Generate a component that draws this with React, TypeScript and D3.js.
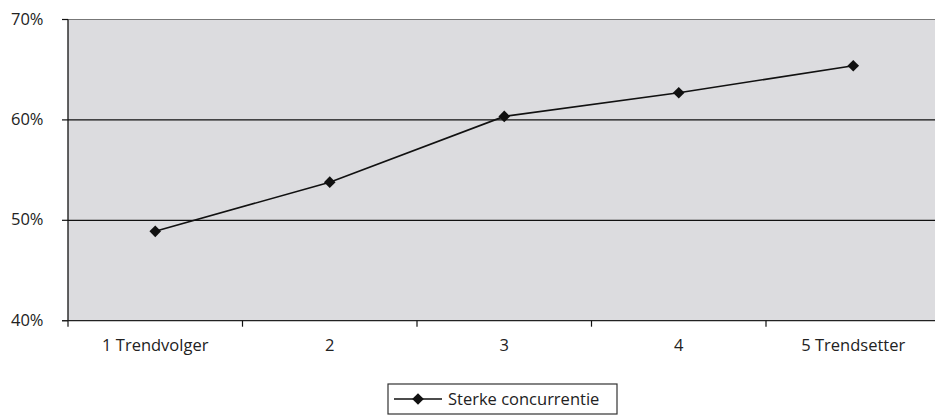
import React from "react";
import * as d3 from "d3";

const categories = ["1 Trendvolger", "2", "3", "4", "5 Trendsetter"];
const values = [48.9, 53.8, 60.35, 62.7, 65.4];
const yTicks = [40, 50, 60, 70];
const seriesName = "Sterke concurrentie";

export default function App() {
  const W = 935, H = 418;
  const left = 68, top = 19.5, bottom = 320.7;
  const band = 174.5;
  const right = left + band * categories.length;
  const x = d3.scaleBand<string>().domain(categories).range([left, right]).padding(0);
  const y = d3.scaleLinear().domain([40, 70]).range([bottom, top]);
  const line = d3.line<number>()
    .x((_, i) => (x(categories[i]) as number) + x.bandwidth() / 2)
    .y((d) => y(d));
  const font = "'Open Sans', 'DejaVu Sans', sans-serif";
  const fs = 16.5;
  const diamond = (cx: number, cy: number, r = 5.8) =>
    `M${cx},${cy - r}L${cx + r},${cy}L${cx},${cy + r}L${cx - r},${cy}Z`;
  return (
    <svg width={W} height={H} style={{ position: "absolute", left: 0, top: 0 }} fontFamily={font}>
      <rect x={left} y={top} width={right - left} height={bottom - top} fill="#dcdcdf" />
      <line x1={left} x2={right} y1={top} y2={top} stroke="#777" strokeWidth={1.2} />
      {yTicks.map((t) => (
        <g key={t}>
          {t !== 70 && t !== 40 && (
            <line x1={left} x2={right} y1={y(t)} y2={y(t)} stroke="#111" strokeWidth={1.2} />
          )}
          <line x1={left - 6} x2={left} y1={y(t)} y2={y(t)} stroke="#111" strokeWidth={1.2} />
          <text x={43.5} y={y(t) + 5} textAnchor="end" fontSize={fs} fill="#222">{t}%</text>
        </g>
      ))}
      <line x1={left} x2={left} y1={top} y2={bottom} stroke="#111" strokeWidth={1.3} />
      <line x1={left - 6} x2={right} y1={bottom} y2={bottom} stroke="#222" strokeWidth={1.3} />
      {categories.map((c, i) => (
        <g key={c}>
          <line x1={(x(c) as number)} x2={(x(c) as number)} y1={bottom} y2={bottom + 6} stroke="#111" strokeWidth={1.2} />
          <text x={(x(c) as number) + x.bandwidth() / 2} y={bottom + 30} textAnchor="middle" fontSize={fs} fill="#222">{c}</text>
        </g>
      ))}
      <path d={line(values) || ""} fill="none" stroke="#111" strokeWidth={1.6} />
      {values.map((v, i) => (
        <path key={i} d={diamond((x(categories[i]) as number) + x.bandwidth() / 2, y(v))} fill="#111" />
      ))}
      <rect x={388} y={384} width={229} height={30} fill="#fff" stroke="#333" strokeWidth={1.2} />
      <line x1={394} x2={442} y1={399} y2={399} stroke="#111" strokeWidth={1.6} />
      <path d={diamond(418, 399)} fill="#111" />
      <text x={448} y={405} fontSize={fs} fill="#222">{seriesName}</text>
    </svg>
  );
}
